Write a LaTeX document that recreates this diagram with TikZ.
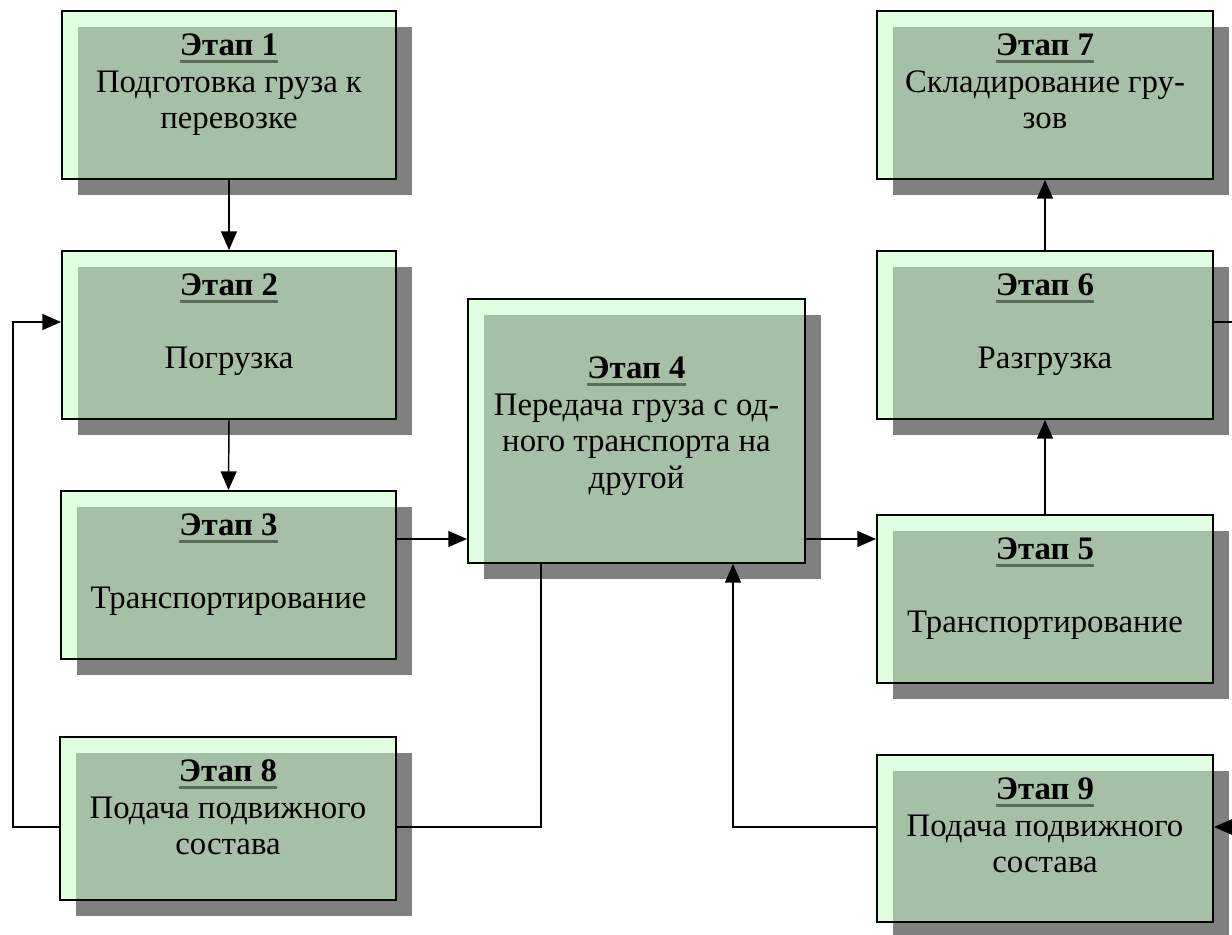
\documentclass[tikz,border=0pt]{standalone}
\usepackage{fontspec}
\setmainfont{Liberation Serif}
\usetikzlibrary{fit,shadows,arrows.meta}
\definecolor{lightg}{HTML}{E0FFE0}
\definecolor{innerg}{HTML}{A6C0A6}
\definecolor{shadowc}{HTML}{808080}
\definecolor{ulc}{HTML}{5A6B5A}
\newcommand\stgt[1]{\setbox0\hbox{\bfseries #1}\rlap{\color{ulc}\rule[-5.5pt]{\wd0}{2pt}}\box0}
\begin{document}
\begin{tikzpicture}[x=0.75pt,y=-0.75pt,
 stagebox/.style={rectangle, inner sep=0pt, draw=black, line width=1.5pt, fill=lightg,
   drop shadow={shadow xshift=12pt, shadow yshift=-12pt, fill=shadowc, opacity=1},
   path picture={\fill[innerg] ([xshift=12pt,yshift=-12pt]path picture bounding box.north west) rectangle (path picture bounding box.south east);}},
 stagetext/.style={anchor=north, inner sep=0pt, align=center, font=\fontsize{24.6}{27.3}\selectfont},
 conn/.style={line width=1.1pt, draw=black},
 arr/.style={conn, -{Triangle[length=14pt,width=12pt]}}]
\useasboundingbox (0,0) rectangle (1232,935);
\clip (0,0) rectangle (1232,935);
\fill[white] (0,0) rectangle (1232,935);

\node[stagebox, fit={(62,11) (396,179)}] (s1) {};
\node[stagebox, fit={(62,251) (396,419)}] (s2) {};
\node[stagebox, fit={(61,491) (396,659)}] (s3) {};
\node[stagebox, fit={(60,737) (396,900)}] (s8) {};
\node[stagebox, fit={(468,299) (805,563)}] (s4) {};
\node[stagebox, fit={(877,11) (1213,179)}] (s7) {};
\node[stagebox, fit={(877,251) (1213,419)}] (s6) {};
\node[stagebox, fit={(877,515) (1213,683)}] (s5) {};
\node[stagebox, fit={(877,755) (1213,922)}] (s9) {};

\node[stagetext] (t1) at ([yshift=-15pt]s1.north) {\strut\stgt{Этап 1}\\\strut Подготовка груза к\\\strut перевозке};
\node[stagetext] (t2) at ([yshift=-15pt]s2.north) {\strut\stgt{Этап 2}\\\strut\\\strut Погрузка};
\node[stagetext] (t3) at ([yshift=-15pt]s3.north) {\strut\stgt{Этап 3}\\\strut\\\strut Транспортирование};
\node[stagetext] (t4) at ([yshift=-14pt]s4.north) {\strut\\\strut\stgt{Этап 4}\\\strut Передача груза с од-\\\strut ного транспорта на\\\strut другой};
\node[stagetext] (t5) at ([yshift=-15pt]s5.north) {\strut\stgt{Этап 5}\\\strut\\\strut Транспортирование};
\node[stagetext] (t6) at ([yshift=-15pt]s6.north) {\strut\stgt{Этап 6}\\\strut\\\strut Разгрузка};
\node[stagetext] (t7) at ([yshift=-15pt]s7.north) {\strut\stgt{Этап 7}\\\strut Складирование гру-\\\strut зов};
\node[stagetext] (t8) at ([yshift=-15pt]s8.north) {\strut\stgt{Этап 8}\\\strut Подача подвижного\\\strut состава};
\node[stagetext] (t9) at ([yshift=-15pt]s9.north) {\strut\stgt{Этап 9}\\\strut Подача подвижного\\\strut состава};

\coordinate (yA) at (0,539);
\coordinate (y2) at (0,322);
\coordinate (yB) at (0,827);
\coordinate (xL) at (13,0);
\coordinate (xM) at (541,0);
\coordinate (xN) at (733,0);
\coordinate (xR) at (1260,0);

\draw[arr] (s1.south) -- (s2.north);
\draw[arr] (s2.south) -- (s3.north);
\draw[arr] (s3.east |- yA) -- (s4.west |- yA);
\draw[arr] (s4.east |- yA) -- (s5.west |- yA);
\draw[arr] (s5.north) -- (s6.south);
\draw[arr] (s6.north) -- (s7.south);
\draw[arr] (s8.west |- yB) -- (xL |- yB) -- (xL |- y2) -- (s2.west |- y2);
\draw[conn] (s8.east |- yB) -- (xM |- yB) -- (xM |- s4.south);
\draw[arr] (s9.west |- yB) -- (xN |- yB) -- (xN |- s4.south);
\draw[arr] (s6.east |- y2) -- (xR |- y2) -- (xR |- yB) -- (s9.east |- yB);
\end{tikzpicture}
\end{document}
